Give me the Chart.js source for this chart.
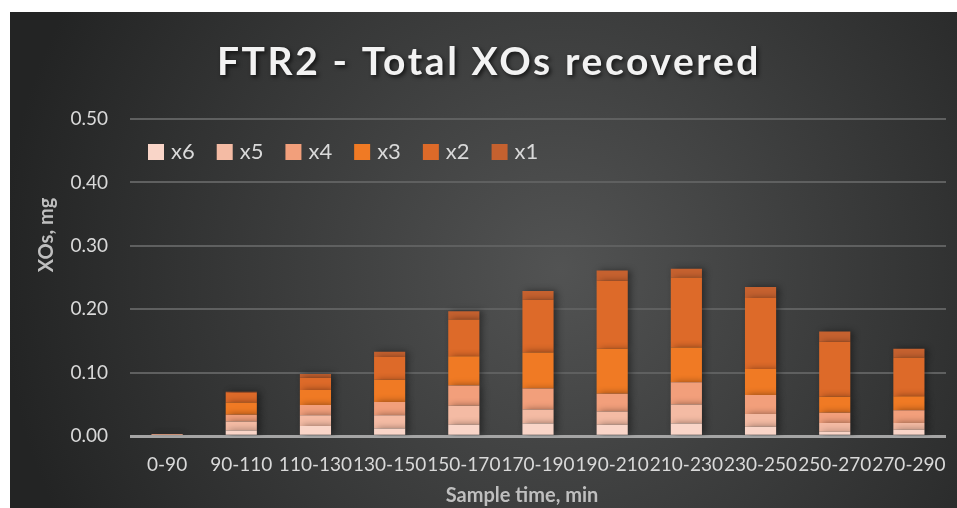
<!DOCTYPE html>
<html>
<head>
<meta charset="utf-8">
<script src="https://cdn.jsdelivr.net/npm/chart.js@4.4.1/dist/chart.umd.min.js"></script>
<style>
  html, body { margin: 0; padding: 0; background: #ffffff; }
  canvas { display: block; }
</style>
</head>
<body>
<canvas id="xosChart" width="957" height="508"></canvas>
<script>
// sample windows (min) and recovered XOs per DP fraction (mg)
const sampleTimes = ['0-90', '90-110', '110-130', '130-150', '150-170', '170-190',
                     '190-210', '210-230', '230-250', '250-270', '270-290'];
const x6 = [0.000, 0.009, 0.016, 0.012, 0.018, 0.020, 0.018, 0.020, 0.015, 0.007, 0.010];
const x5 = [0.002, 0.014, 0.017, 0.021, 0.030, 0.022, 0.021, 0.030, 0.020, 0.014, 0.011];
const x4 = [0.001, 0.011, 0.016, 0.021, 0.032, 0.033, 0.028, 0.035, 0.030, 0.016, 0.020];
const x3 = [0.000, 0.019, 0.024, 0.035, 0.046, 0.057, 0.071, 0.055, 0.041, 0.025, 0.022];
const x2 = [0.000, 0.015, 0.019, 0.036, 0.058, 0.083, 0.107, 0.110, 0.112, 0.087, 0.061];
const x1 = [0.000, 0.002, 0.006, 0.008, 0.013, 0.014, 0.016, 0.014, 0.017, 0.016, 0.014];
const yTicks = [0, 0.1, 0.2, 0.3, 0.4, 0.5];

const FONT = 'Lato, "Open Sans", sans-serif';

// dark excel-like panel behind everything
const panelBackground = {
    id: 'panelBackground',
    beforeDraw(chart) {
        const ctx = chart.ctx;
        ctx.save();
        ctx.fillStyle = '#ffffff';
        ctx.fillRect(0, 0, chart.width, chart.height);
        const g = ctx.createRadialGradient(560, 270, 0, 560, 270, 560);
        g.addColorStop(0, '#525353');
        g.addColorStop(1, '#232424');
        ctx.fillStyle = g;
        ctx.fillRect(10, 12, chart.width - 10, chart.height - 12);
        ctx.restore();
    }
};

// soft shadow to the right of the bars, like the excel style
const barShadow = {
    id: 'barShadow',
    beforeDatasetsDraw(chart) {
        const ctx = chart.ctx;
        ctx.save();
        ctx.shadowColor = 'rgba(0,0,0,0.45)';
        ctx.shadowBlur = 7;
        ctx.shadowOffsetX = 3;
        ctx.shadowOffsetY = 0;
    },
    afterDatasetsDraw(chart) {
        chart.ctx.restore();
    }
};

// legend sits inside the plot, in one row under the 0.50 line
const innerLegend = {
    id: 'innerLegend',
    afterDatasetsDraw(chart) {
        const ctx = chart.ctx;
        const area = chart.chartArea;
        let x = area.left + 18;
        const y = area.top + 33;
        ctx.save();
        ctx.shadowColor = 'transparent';
        ctx.font = '22px ' + FONT;
        ctx.textBaseline = 'middle';
        ctx.textAlign = 'left';
        chart.data.datasets.forEach(ds => {
            ctx.fillStyle = ds.backgroundColor;
            ctx.fillRect(x, y - 8, 16, 16);
            ctx.fillStyle = '#d9d9d9';
            ctx.fillText(ds.label, x + 23, y);
            x += 23 + ctx.measureText(ds.label).width + 22;
        });
        ctx.restore();
    }
};

// chart title + axis titles, placed like the original
const chartTexts = {
    id: 'chartTexts',
    afterDraw(chart) {
        const ctx = chart.ctx;
        ctx.save();
        ctx.textAlign = 'center';
        ctx.textBaseline = 'middle';

        ctx.font = 'bold 39px ' + FONT;
        ctx.letterSpacing = '2.6px';
        ctx.shadowColor = 'rgba(0,0,0,0.7)';
        ctx.shadowBlur = 4;
        ctx.shadowOffsetX = 2;
        ctx.shadowOffsetY = 2;
        ctx.fillStyle = '#f2f2f2';
        ctx.fillText('FTR2 - Total XOs recovered', 489, 62);

        ctx.shadowColor = 'transparent';
        ctx.letterSpacing = '0px';
        ctx.fillStyle = '#bfbfbf';
        ctx.font = 'bold 20px ' + FONT;
        ctx.fillText('Sample time, min', 522, 496);

        ctx.translate(47, 235);
        ctx.rotate(-Math.PI / 2);
        ctx.fillText('XOs, mg', 0, 0);
        ctx.restore();
    }
};

function makeSet(label, data, color) {
    return {
        label: label,
        data: data,
        backgroundColor: color,
        borderWidth: 0,
        categoryPercentage: 1,
        barPercentage: 0.42
    };
}

new Chart(document.getElementById('xosChart').getContext('2d'), {
    type: 'bar',
    data: {
        labels: sampleTimes,
        datasets: [
            makeSet('x6', x6, '#f9d5c8'),
            makeSet('x5', x5, '#f4bba4'),
            makeSet('x4', x4, '#f29f7b'),
            makeSet('x3', x3, '#f07a24'),
            makeSet('x2', x2, '#dd6a29'),
            makeSet('x1', x1, '#c5612f')
        ]
    },
    options: {
        responsive: false,
        animation: false,
        layout: { padding: { top: 119, right: 11, bottom: 15, left: 0 } },
        plugins: {
            title: { display: false },
            tooltip: { enabled: false },
            legend: { display: false }
        },
        scales: {
            x: {
                stacked: true,
                afterFit(scale) { scale.paddingLeft = 0; scale.paddingRight = 0; },
                grid: { display: false, drawTicks: false },
                border: { display: false },
                ticks: {
                    color: '#d9d9d9',
                    font: { size: 19, family: FONT },
                    padding: 17,
                    maxRotation: 0,
                    autoSkip: false
                }
            },
            y: {
                stacked: true,
                min: 0,
                max: 0.5,
                afterFit(scale) { scale.width = 130; },
                afterBuildTicks(scale) { scale.ticks = yTicks.map(v => ({ value: v })); },
                grid: {
                    drawTicks: false,
                    color: ctx => ctx.tick && ctx.tick.value === 0 ? '#a5a5a5' : '#5f6060',
                    lineWidth: ctx => ctx.tick && ctx.tick.value === 0 ? 3 : 2
                },
                border: { display: false },
                ticks: {
                    color: '#d9d9d9',
                    font: { size: 19, family: FONT },
                    padding: 22,
                    callback: v => v.toFixed(2)
                }
            }
        }
    },
    plugins: [panelBackground, barShadow, innerLegend, chartTexts]
});
</script>
</body>
</html>
